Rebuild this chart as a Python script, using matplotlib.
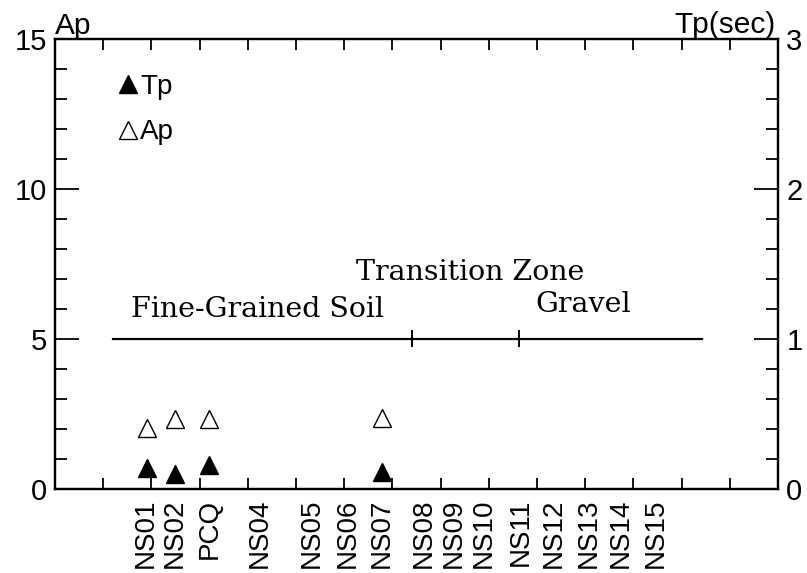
import numpy as np
import matplotlib.pyplot as plt
from matplotlib.ticker import MultipleLocator, FixedLocator, NullFormatter, FixedFormatter

plt.rcParams['font.family'] = ['Liberation Sans', 'DejaVu Sans']

# station names and their positions along the section
stations = ['NS01', 'NS02', 'PCQ', 'NS04', 'NS05', 'NS06', 'NS07', 'NS08',
            'NS09', 'NS10', 'NS11', 'NS12', 'NS13', 'NS14', 'NS15']
station_x = [1.88, 2.48, 3.21, 4.24, 5.32, 6.07, 6.77, 7.66,
             8.28, 8.90, 9.67, 10.35, 11.08, 11.74, 12.46]

# measured stations
meas_x = [1.90, 2.48, 3.19, 6.79]
ap = [2.03, 2.33, 2.33, 2.37]      # amplification
tp = [0.14, 0.10, 0.16, 0.11]      # predominant period (sec)

# soil zones along the section
zone_start = 1.2
zone_end = 13.42
zone_breaks = [7.41, 9.63]
zone_level = 5

fig = plt.figure(figsize=(8.07, 5.73), dpi=100)
ax = fig.add_axes([0.0682, 0.1466, 0.8958, 0.7854])
ax2 = ax.twinx()

ax.set_xlim(0, 15)
ax.set_ylim(0, 15)
ax2.set_ylim(0, 3)

h_ap, = ax.plot(meas_x, ap, linestyle='none', marker='^', markersize=13.5,
                markerfacecolor='white', markeredgecolor='black', markeredgewidth=1.0)
h_tp, = ax2.plot(meas_x, tp, linestyle='none', marker='^', markersize=13.5,
                 color='black')

# zone line
ax.plot([zone_start, zone_end], [zone_level, zone_level], color='black', lw=1.6)
for b in zone_breaks:
    ax.plot([b, b], [zone_level - 0.25, zone_level + 0.25], color='black', lw=1.4)

serif = {'family': 'DejaVu Serif', 'size': 20.5}
ax.text(8.61, 6.97, 'Transition Zone', ha='center', va='baseline', fontdict=serif)
ax.text(4.21, 5.73, 'Fine-Grained Soil', ha='center', va='baseline', fontdict=serif)
ax.text(10.96, 5.9, 'Gravel', ha='center', va='baseline', fontdict=serif)

# ticks
ax.xaxis.set_major_locator(MultipleLocator(1))
ax.xaxis.set_major_formatter(NullFormatter())
ax.xaxis.set_minor_locator(FixedLocator(station_x))
ax.xaxis.set_minor_formatter(FixedFormatter(stations))
ax.tick_params(axis='x', which='major', direction='in', length=8, width=1.3,
               top=True, bottom=True)
ax.tick_params(axis='x', which='minor', length=0, pad=7, labelsize=20,
               labelrotation=90)

ax.yaxis.set_major_locator(MultipleLocator(5))
ax.yaxis.set_minor_locator(MultipleLocator(1))
ax.tick_params(axis='y', which='major', direction='in', length=17, width=1.3,
               labelsize=21, pad=6)
ax.tick_params(axis='y', which='minor', direction='in', length=8.5, width=1.3)

ax2.yaxis.set_major_locator(MultipleLocator(1))
ax2.yaxis.set_minor_locator(MultipleLocator(0.2))
ax2.tick_params(axis='y', which='major', direction='in', length=17, width=1.3,
                labelsize=21, pad=6)
ax2.tick_params(axis='y', which='minor', direction='in', length=8.5, width=1.3)

for a in (ax, ax2):
    for s in a.spines.values():
        s.set_linewidth(1.6)

ax.text(0.0, 1.011, 'Ap', transform=ax.transAxes, fontsize=21.5, ha='left', va='baseline')
ax.text(0.997, 1.013, 'Tp(sec)', transform=ax.transAxes, fontsize=21.5, ha='right', va='baseline')

ax2.legend([h_tp, h_ap], ['Tp', 'Ap'], loc='upper left', bbox_to_anchor=(0.0715, 0.947),
           frameon=False, fontsize=20, handlelength=0.7, handletextpad=0.1,
           labelspacing=0.7, borderaxespad=0, markerscale=1.0)

plt.savefig('out.png', dpi=100)
